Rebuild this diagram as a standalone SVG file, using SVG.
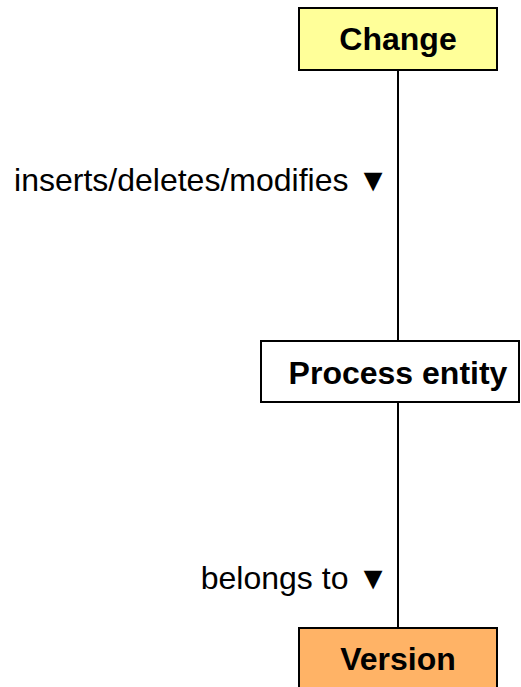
<svg xmlns="http://www.w3.org/2000/svg" width="521" height="687" viewBox="0 0 521 687">
<style>
.box{stroke:#000;stroke-width:2}
.t{font-family:"Liberation Sans",Arial,sans-serif;font-size:32px;font-weight:bold;text-anchor:middle;fill:#000}
.l{font-family:"Liberation Sans","DejaVu Sans",Arial,sans-serif;font-size:32px;text-anchor:end;fill:#000}
.c{stroke:#000;stroke-width:2;fill:none}
</style>
<rect width="521" height="687" fill="#fff"/>
<g id="connectors">
<line class="c" x1="398" y1="70" x2="398" y2="341"/>
<line class="c" x1="398" y1="402" x2="398" y2="628"/>
<text class="l" x="389" y="191">inserts/deletes/modifies ▼</text>
<text class="l" x="389" y="589">belongs to ▼</text>
</g>
<g id="change">
<rect class="box" x="299" y="8" width="198" height="62" fill="#FFFF99"/>
<text class="t" x="398" y="50">Change</text>
</g>
<g id="process-entity">
<rect class="box" x="261" y="341" width="258" height="61" fill="#FFFFFF"/>
<text class="t" x="398" y="384">Process entity</text>
</g>
<g id="version">
<rect class="box" x="299" y="628" width="198" height="62" fill="#FFB366"/>
<text class="t" x="398" y="670">Version</text>
</g>
</svg>
